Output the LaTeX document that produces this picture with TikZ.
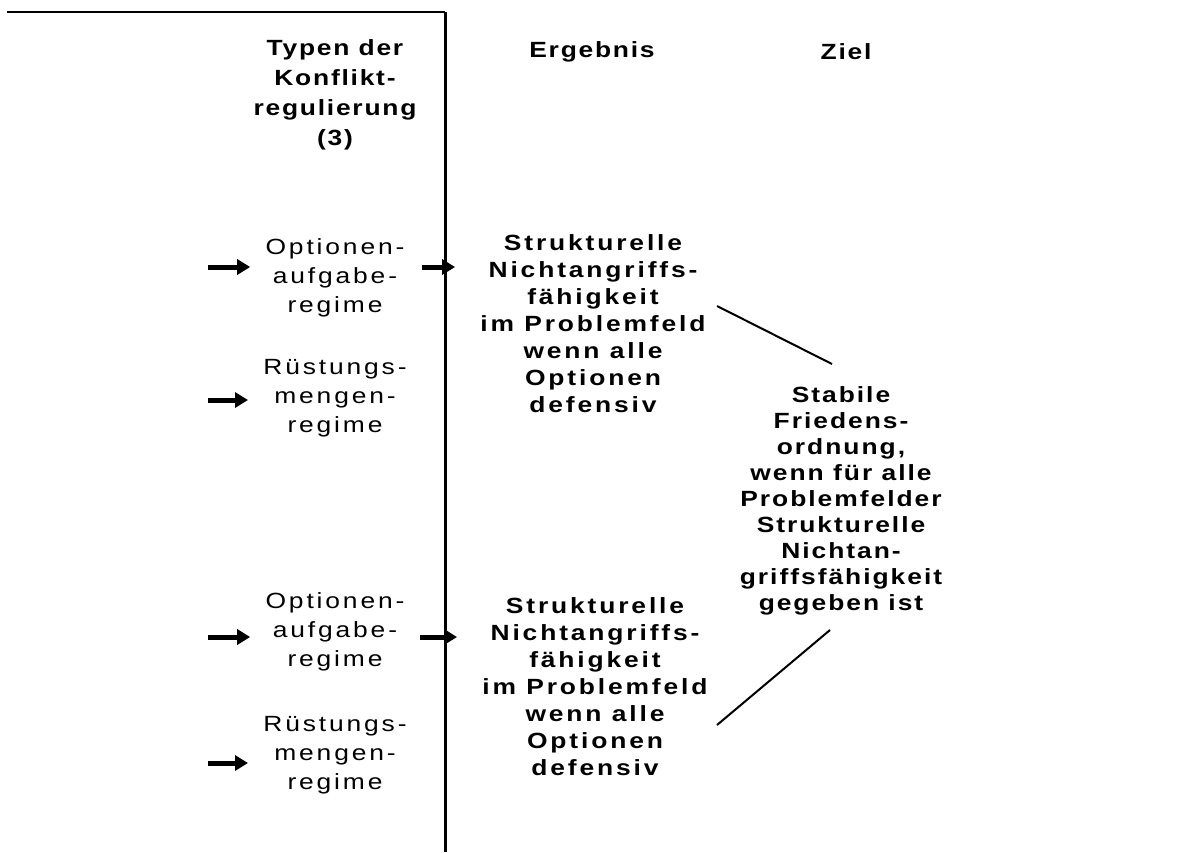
\documentclass[tikz,border=0pt]{standalone}
\usepackage{fontspec}
\setmainfont{Liberation Sans}[FakeStretch=1.2, LetterSpace=13]
\newfontfamily\kopffont{Liberation Sans}[FakeStretch=1.2, LetterSpace=8]
\newfontfamily\zielfont{Liberation Sans}[FakeStretch=1.2, LetterSpace=9]
\usetikzlibrary{arrows.meta}

\tikzset{
  kopf/.style={font=\kopffont\fontsize{11}{15}\selectfont\bfseries, align=center, inner sep=0pt},
  regime/.style={font=\fontsize{11}{14.5}\selectfont, align=center, inner sep=0pt},
  ergebnis/.style={font=\fontsize{11}{13.5}\selectfont\bfseries, align=center, inner sep=0pt},
  zielbox/.style={font=\zielfont\fontsize{11}{13}\selectfont\bfseries, align=center, inner sep=0pt},
  pfeil/.style={line width=2.5pt, -{Triangle[length=6.5pt,width=7.5pt]}},
}

\begin{document}
\begin{tikzpicture}[x=0.5pt, y=-0.5pt]
        \useasboundingbox (0,0) rectangle (1182,852);
        % Spaltenrahmen
        \draw[line width=1pt] (7,12) -- (445,12);
        \draw[line width=1.5pt] (445,12) -- (445,852);

        % Kopfzeile
        \node[kopf] (typen) at (335,95) {Typen der\\Konflikt-\\regulierung\\(3)};
        \node[kopf] (ergkopf) at (592,52) {Ergebnis};
        \node[kopf] (zielkopf) at (846,52) {Ziel};

        % Regime
        \node[regime] (opt1) at (335,278) {Optionen-\\aufgabe-\\regime};
        \node[regime] (ruest1) at (335,398) {Rüstungs-\\mengen-\\regime};
        \node[regime] (opt2) at (335,632) {Optionen-\\aufgabe-\\regime};
        \node[regime] (ruest2) at (335,755) {Rüstungs-\\mengen-\\regime};

        \node[ergebnis] (erg1) at (593,324) {Strukturelle\\Nichtangriffs-\\fähigkeit\\im Problemfeld\\wenn alle\\Optionen\\defensiv};
        \node[ergebnis] (erg2) at (595,687) {Strukturelle\\Nichtangriffs-\\fähigkeit\\im Problemfeld\\wenn alle\\Optionen\\defensiv};

        \node[zielbox] (ziel) at (841,501) {Stabile\\Friedens-\\ordnung,\\wenn für alle\\Problemfelder\\Strukturelle\\Nichtan-\\griffsfähigkeit\\gegeben ist};

        % Pfeile
        \coordinate (in1) at (208,267);
        \coordinate (in2) at (208,400);
        \coordinate (in3) at (208,637);
        \coordinate (in4) at (208,763);
        \draw[pfeil, shorten >=7.5pt] (in1) -- (in1 -| opt1.west);
        \draw[pfeil, shorten >=7.5pt] (in2) -- (in2 -| ruest1.west);
        \draw[pfeil, shorten >=7.5pt] (in3) -- (in3 -| opt2.west);
        \draw[pfeil, shorten >=7.5pt] (in4) -- (in4 -| ruest2.west);

        \coordinate (mid1) at (422,267);
        \coordinate (mid2) at (420,637);
        \draw[pfeil, shorten >=12.5pt] (mid1) -- (mid1 -| erg1.west);
        \draw[pfeil, shorten >=12.5pt] (mid2) -- (mid2 -| erg2.west);

        % Verbindung zum Ziel
        \coordinate (oben) at (717,306);
        \coordinate (obenziel) at (832,364);
        \coordinate (unten) at (717,725);
        \coordinate (untenziel) at (830,630);
        \draw[line width=1pt] (oben) -- (obenziel);
        \draw[line width=1pt] (unten) -- (untenziel);
\end{tikzpicture}
\end{document}
